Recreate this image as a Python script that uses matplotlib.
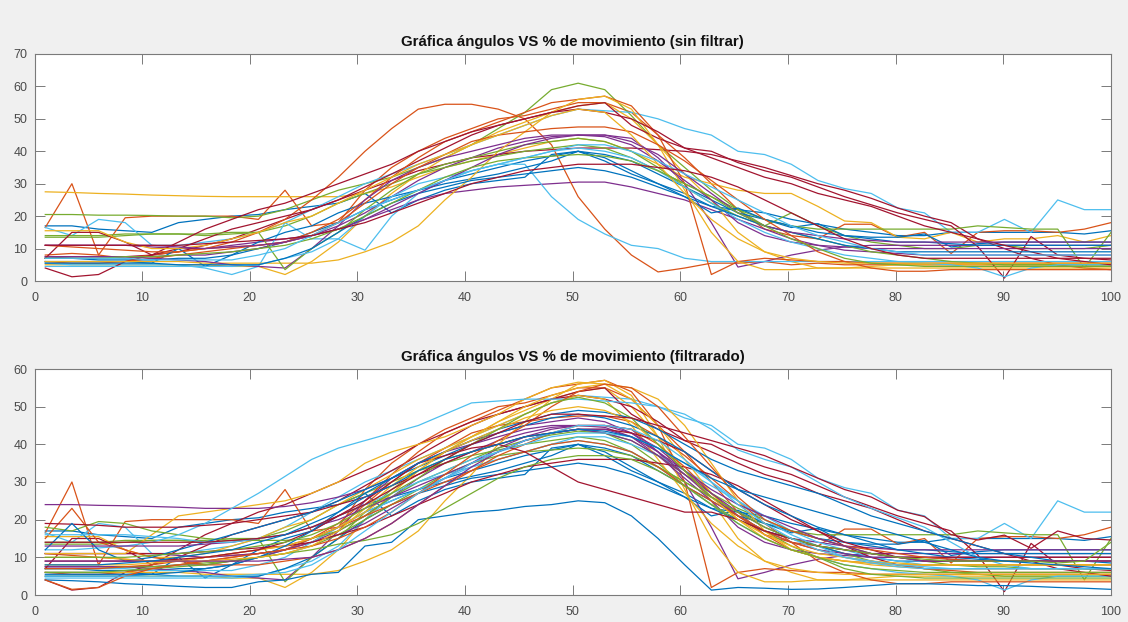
import numpy as np
import matplotlib
matplotlib.use("Agg")
import matplotlib.pyplot as plt

# percent of movement, 41 samples per trial
pct = np.linspace(1, 100, 41)

# MATLAB default line colour order
matlab_colors = ["#0072BD", "#D95319", "#EDB120", "#7E2F8E", "#77AC30", "#4DBEEE", "#A2142F"]

# ---- raw trials (sin filtrar) ----
t00 = [17, 17, 16, 15.5, 15, 18, 19, 20, 20.5, 22, 23, 24, 27, 21, 25, 28, 30, 31, 32, 39, 40, 37, 33, 30, 27,
       23, 22, 21, 19, 17.5, 16, 15, 14, 14, 15, 15, 15, 15, 15, 14.5, 15.5]
t01 = [16.5, 30, 8, 19.5, 20, 20, 20, 20, 19, 28, 17, 18, 28, 35, 40, 44, 47, 50, 51, 53, 55, 55, 52, 45, 38,
       30, 22, 16, 14, 13, 17.5, 17.5, 13.5, 15, 8.5, 15, 15.5, 15.5, 15, 16, 18]
t02 = [27.5, 27.3, 27, 26.8, 26.5, 26.3, 26.1, 26, 26, 26, 26, 26, 27, 29, 32, 35, 37, 39, 41, 43, 44, 43, 40, 36, 32,
       30, 28, 27, 27, 23, 18.5, 18, 13.5, 13, 15, 12, 13, 13, 14, 12, 14]
t03 = [11, 11, 11, 11, 10.5, 10, 10, 11, 12, 13, 14, 16, 19, 22, 25, 27, 28, 29, 29.5, 30, 30.5, 30.5, 29, 27, 25,
       22, 19, 16, 13, 11, 9.5, 9, 8.5, 8, 8, 8, 8, 8, 8, 8, 8]
t04 = [20.5, 20.5, 20.3, 20.3, 20.2, 20, 20, 19.5, 20, 22, 25, 28, 30, 32, 35, 38, 42, 47, 52, 59, 61, 59, 51, 42, 35,
       28, 22, 17, 21, 17, 14, 12, 11, 10, 10, 11, 11, 10, 10, 10, 11]
t05 = [16.5, 14, 19, 18, 11, 11, 12, 13, 15, 18, 22, 26, 30, 33, 36, 39, 42, 45, 48, 51, 53, 52.5, 52, 50, 47,
       45, 40, 39, 36, 31, 28.5, 27, 22.5, 21, 15, 15, 19, 15, 25, 22, 22]
t06 = [7, 7.5, 7.5, 7.5, 8, 9, 11, 13, 16, 19, 22, 25, 28, 31, 34, 36, 38, 39, 40, 40.5, 41, 41, 41, 40.5, 40,
       39, 37, 35, 32.5, 30, 28, 25.5, 22.5, 20, 18, 13, 10, 7, 5, 4, 3.5]
t07 = [7, 7, 6.5, 6.5, 6.5, 7, 7, 8, 10, 12, 15, 18, 22, 25, 28, 31, 33, 35, 37, 38.5, 40, 39, 37, 33, 29,
       25, 21, 19, 16.5, 17.7, 14, 13.5, 13.5, 14.5, 10.5, 11.5, 12, 12, 12, 12, 12]
t08 = [8, 8.5, 8, 7, 8, 9, 10, 12, 15, 19, 25, 32, 40, 47, 53, 54.5, 54.5, 53, 50, 42, 26, 16, 8, 2.8, 4,
       5.5, 5.5, 6, 5, 5.5, 5, 5, 5, 5, 5, 5, 5, 5, 5, 5, 5]
t09 = [5, 5, 5, 5, 5, 5, 5, 4.5, 4.5, 2, 6, 12, 20, 27, 33, 38, 42, 46, 49, 52, 54, 55, 50, 42, 33,
       25, 15, 9, 6, 4, 4, 4.5, 5, 5, 5, 5, 5, 5, 5, 5, 5]
t10 = [7.5, 7.5, 7.5, 7.5, 7.5, 8, 8, 9, 10, 12, 14, 17, 21, 26, 31, 35, 38, 41, 43, 44.5, 45, 45, 44, 38, 30,
       18, 4.3, 6, 8, 9.5, 10.5, 11, 11, 11, 11, 11, 11, 11, 11, 11, 11]
t11 = [14, 14, 14, 14.5, 14.5, 14.5, 14, 14.5, 15, 17, 20, 24, 27, 30, 33, 35, 37, 38.5, 40, 41, 42, 41, 38, 34, 30,
       26, 22, 19, 17, 16, 16, 16, 16, 16, 16, 17, 16.5, 16, 16, 4, 15]
t12 = [5.5, 5, 5, 5, 5, 5, 4, 2, 4.5, 18, 13, 13, 9.5, 20, 27, 31, 34, 36, 36, 26, 19, 14.5, 11, 10, 7,
       6, 6, 6, 6, 6, 6, 6, 6, 6, 6, 6, 6, 6, 6, 6, 6]
t13 = [4, 1.3, 2, 6, 8, 10, 13, 16, 18, 20, 22, 25, 29, 33, 37, 41, 45, 48, 50, 52, 54, 55, 48, 44, 41,
       40, 36.5, 34, 32, 29, 26, 23.5, 21, 19, 17, 10.6, 0.9, 13.7, 8, 7, 6.5]
t14 = [6, 6, 6, 6, 5.5, 10, 4.5, 8, 12, 15, 17, 21, 24, 26, 28, 30, 31.5, 33, 35, 37, 40, 38, 34, 30, 26,
       21, 22.5, 19, 17, 15, 14, 13, 12, 12, 11.5, 11, 11, 11, 11, 11, 11]
t15 = [6, 5.5, 5.5, 6, 7, 8, 9, 10, 11, 12, 15, 19, 25, 32, 38, 43, 46, 49, 52, 55, 56, 57, 54, 45, 30,
       2, 6, 7, 6.5, 6, 6, 5.5, 5.5, 5.5, 5.5, 5.5, 5.5, 5.5, 5.5, 5.5, 5.5]
t16 = [6, 6, 6, 6, 6, 6, 5.5, 5.5, 5.5, 5.5, 5.5, 6.5, 9, 12, 17, 25, 32, 40, 46, 52, 56, 57, 53, 42, 28,
       15, 6, 3.5, 3.5, 4, 4, 4, 4, 4, 4, 4, 4, 4, 4, 4, 4]
t17 = [7.5, 7.5, 7.5, 7.5, 7, 6.5, 6, 5, 4.5, 4, 10, 17, 25, 31, 35, 38, 40, 42, 44, 45, 45, 44.5, 42, 37, 31,
       25, 18, 14, 12, 11, 10.5, 10, 10, 10, 10, 10, 10, 10, 10, 10, 10]
t18 = [13.5, 13.5, 13.5, 14, 14.5, 14.5, 14.5, 15, 15, 3.5, 10, 15, 22, 28, 33, 36, 38, 40, 42, 43, 44, 43, 40, 35, 29,
       24, 20, 17, 15, 13, 11, 9, 8, 7, 6, 5.5, 5, 5, 5, 5, 5]
t19 = [4.5, 4.5, 4.5, 4.5, 4.5, 4.5, 4.5, 4.5, 5, 7, 9, 13, 20, 26, 30, 32, 34, 36, 38, 40, 41, 40, 38, 34, 29,
       24, 19, 15, 12, 10, 8, 7, 6, 5.5, 5, 4, 1.3, 4, 5, 5, 5]
t20 = [7, 15, 15, 12, 8, 12, 16, 19, 22, 24, 27, 30, 33, 36, 40, 43, 46, 48, 50, 52, 53, 52, 50, 46, 41,
       38, 35, 32, 30, 27, 25, 23, 20, 17, 15, 13, 11, 9, 7, 6, 5]
t21 = [5.5, 5.5, 5.5, 5.5, 5.5, 5, 5, 5, 5, 7, 10, 15, 20, 24, 27, 29, 31, 32, 33, 34, 35, 34, 32, 29, 26,
       23, 20, 17, 15, 13, 11, 10, 9, 9, 9, 9, 9, 9, 9, 9, 9]
t22 = [11, 10.5, 10, 9.5, 9, 9, 10, 10.5, 11, 12, 14, 18, 24, 30, 35, 39, 43, 45, 46, 47, 47.5, 47.5, 46, 42, 37,
       31, 25, 19, 14, 9, 6, 4, 3, 3, 3.5, 3.5, 3.5, 3.5, 3.5, 3.5, 3.5]
t23 = [15.5, 15.5, 15.5, 12, 10, 10, 11, 13, 15, 18, 20, 24, 28, 32, 36, 39, 42, 45, 48, 51, 53, 52, 45, 36, 27,
       19, 13, 9, 7, 6, 5.5, 5.5, 5.5, 5.5, 5.5, 5.5, 5.5, 5.5, 5.5, 5.5, 5.5]
t24 = [11, 11, 11, 11, 11, 10.5, 10, 10.5, 11, 12, 14, 16, 19, 23, 27, 31, 35, 39, 42, 44, 45, 45, 43, 39, 33,
       27, 21, 17, 15, 14, 13, 12.5, 12, 12, 12, 12, 12, 12, 12, 12, 12]
t25 = [7, 7, 7, 7.5, 7.5, 8, 8.5, 9, 10, 11, 13, 16, 20, 24, 28, 32, 35, 37, 38, 38.5, 39, 38.5, 37, 34, 30,
       26, 21, 17, 13, 10, 7, 5.5, 5, 4.5, 4.5, 4.5, 4.5, 4.5, 4.5, 4.5, 4.5]
t26 = [7, 7, 7, 7, 6.5, 6.5, 6.5, 6.5, 8, 10, 14, 18, 22, 25, 28, 31, 34, 36, 38, 40, 42, 42, 40, 37, 33,
       29, 25, 21, 17, 14, 12, 10, 9, 8, 8, 8, 8, 8, 8, 8, 8]
t27 = [11, 11, 11, 11, 11, 11, 11.5, 12, 12.5, 13, 14, 16, 18, 21, 24, 27, 30, 32, 34, 35, 36, 36, 36, 35, 34,
       32, 29, 25, 21, 17, 13, 10, 8, 7, 7, 7, 7, 7, 7, 7, 7]

raw = [t00, t01, t02, t03, t04, t05, t06, t07, t08, t09, t10, t11, t12, t13,
       t14, t15, t16, t17, t18, t19, t20, t21, t22, t23, t24, t25, t26, t27]

# ---- extra trials only in the filtered set ----
b00 = [4, 3.8, 3.5, 3, 2.7, 2.3, 2, 2, 3.5, 4, 5.5, 6, 13, 14, 20, 21, 22, 22.5, 23.5, 24, 25, 24.5, 21, 15, 8,
       1.3, 2, 1.8, 1.5, 1.6, 2, 2.5, 3, 3, 2.8, 2.5, 2.5, 2.3, 2, 1.8, 1.5]
b01 = [15, 23, 14, 12, 10, 9, 8, 8, 8, 9, 10, 12, 15, 19, 24, 29, 33, 37, 40, 43, 45, 45, 44, 40, 34,
       27, 21, 16, 12, 10, 9, 8.5, 8, 8, 8, 8, 8, 8, 8, 8, 8]
b02 = [11, 11, 11, 11, 16, 21, 22, 23, 24, 25, 27, 30, 35, 38, 40, 42, 45, 48, 52, 55, 56.5, 56, 52, 45, 36,
       27, 20, 15, 12, 10, 9, 8, 7.5, 7, 7, 7, 7, 7, 7, 7, 7]
b03 = [24, 24, 23.8, 23.7, 23.5, 23.3, 23, 23, 23, 23.5, 24.5, 26, 28, 31, 35, 38, 41, 43, 45, 46, 47, 46, 43, 38, 32,
       26, 21, 17, 14, 12, 11, 10, 10, 10, 10, 10, 10, 10, 10, 10, 10]
b04 = [18, 17, 19.5, 19, 17, 16, 15, 14.5, 14.5, 14.5, 15, 17, 21, 26, 30, 33, 36, 39, 41, 42.5, 43.5, 43, 41, 37, 32,
       27, 23, 20, 17, 15, 13, 11, 10, 9, 8, 7.5, 7.5, 7, 7, 7, 7]
b05 = [12, 12, 12.5, 13, 14, 16, 19, 23, 27, 31.5, 36, 39, 41, 43, 45, 48, 51, 51.5, 52, 52, 52, 51.5, 51, 50, 48,
       44, 38.5, 36, 34, 30, 26, 23, 20.5, 18, 14, 10, 8, 7, 7, 7, 7]
b06 = [19, 18.8, 18.5, 18, 18, 18, 18.5, 19, 20, 21, 22, 24, 26, 29, 32, 35, 38, 40, 42, 43, 44, 44, 43, 41, 38,
       33, 28, 24, 20, 17, 14, 12, 10, 9, 9, 9, 9, 9, 9, 9, 9]
b07 = [12, 19, 12, 9, 10, 12, 14, 16, 18, 20, 22, 25, 28, 31, 34, 37, 40, 43, 45, 47, 48, 47, 45, 42, 38,
       33, 28, 24, 21, 18, 16, 14, 12, 11, 10, 9.5, 9, 9, 9, 9, 9]
b08 = [7, 7, 7, 7.5, 8, 9, 10, 11, 12, 13, 15, 18, 21, 24, 27, 30, 33, 36, 38, 40, 41, 40, 38, 34, 29,
       25, 21, 17, 14, 12, 10, 9, 8, 7, 6.5, 6, 6, 6, 6, 6, 6]
b09 = [8, 8, 8, 8, 8.5, 9, 10, 11, 12, 13, 15, 18, 22, 27, 33, 38, 42, 46, 50, 53, 55, 56, 55, 52, 45,
       35, 25, 17, 12, 10, 9, 8.5, 8, 8, 8, 8, 8, 8, 8, 8, 8]
b10 = [13, 13, 13, 13, 13, 13, 13.5, 14, 15, 16, 18, 20, 23, 26, 29, 32, 35, 38, 41, 43, 44, 43, 41, 37, 32,
       27, 22, 18, 15, 13, 12, 11, 10, 10, 9.5, 9, 9, 9, 9, 9, 9]
b11 = [6, 6, 6, 6.5, 7, 7.5, 8, 9, 10, 11, 12, 13.5, 14.5, 16, 19, 23, 27, 31, 34, 36, 37, 37, 36, 33, 29,
       24, 19, 15, 12, 10, 8, 7, 6.5, 6, 6, 6, 6, 6, 6, 6, 6]
b12 = [16, 16, 16, 16, 15.5, 15, 14, 14, 15, 16, 18, 21, 24, 27, 30, 33, 36, 38, 40, 42, 43, 43, 42, 39, 35,
       30, 25, 20, 16, 13, 10, 8.5, 7.5, 7, 7, 7, 7, 7, 7, 7, 7]
b13 = [9, 9, 9, 9, 9, 9.5, 10, 11, 12, 14, 17, 21, 25, 30, 35, 37, 39, 40, 38, 34, 30, 28, 26, 24, 22,
       22, 20, 17, 15, 13, 12, 11, 10, 10, 10, 10, 10, 10, 10, 10, 10]
b14 = [5, 5, 5, 5, 5.5, 6, 7, 8, 10, 13, 17, 22, 27, 31, 35, 38, 41, 44, 46, 48, 49, 48.5, 47, 44, 40,
       36, 33, 31, 29, 27, 24, 21, 19, 17, 15, 13, 11, 10, 9, 9, 8.5]
b15 = [4, 1.5, 2, 5, 7, 8, 9, 10, 11, 12, 13, 15, 18, 22, 27, 32, 37, 41, 45, 50, 54, 56, 55, 50, 42,
       34, 26, 20, 17, 15, 13, 12, 11, 10, 9.5, 9, 9, 9, 9, 9, 9]
b16 = [10, 10, 10, 9.5, 9, 9, 9, 9.5, 10, 11, 13, 17, 23, 29, 34, 38, 41, 44, 47, 49, 50, 49, 46, 40, 33,
       26, 20, 16, 13, 11, 10, 9, 8.5, 8, 8, 8, 8, 8, 8, 8, 8]
b17 = [9, 9, 9, 9, 9, 9, 9, 9, 9, 9.5, 10, 12, 15, 19, 24, 29, 34, 38, 41, 43, 44, 44, 42, 38, 33,
       28, 24, 21, 18, 15, 13, 11, 10, 9, 9, 9, 9, 9, 9, 9, 9]
b18 = [10, 10, 10, 10, 10.5, 11, 11.5, 12, 13, 14, 16, 19, 23, 27, 31, 36, 40, 44, 48, 51, 52.5, 51, 47, 40, 33,
       26, 22, 18, 15, 13, 12, 11, 10, 9.5, 9, 9, 9, 9, 8.5, 9, 14]
b19 = [5, 5, 5, 5, 5, 5, 5, 5, 5.5, 6, 8, 12, 17, 22, 27, 31, 35, 38, 41, 43, 45, 45, 44, 41, 36,
       30, 24, 19, 15, 12, 10, 9, 8, 7.5, 7, 7, 7, 7, 7, 7, 7]
b20 = [14, 14, 14, 14, 14, 14, 14, 14.5, 15, 16, 18, 21, 24, 28, 32, 36, 40, 43, 46, 48, 48, 47.5, 47, 45, 43,
       41, 39, 37, 34, 31, 28, 26, 22.5, 20.8, 16, 14.6, 15.9, 12.4, 17, 15, 14.6]
b21 = [8, 8, 8, 8.5, 9, 10, 11, 12, 14, 16, 19, 22, 26, 29, 33, 36, 38, 40, 42, 43, 44, 43.5, 42, 39, 35,
       31, 28, 26, 24, 22, 20, 18, 16, 14, 12, 10, 9, 8.5, 8, 7.5, 7]

extra = [b00, b01, b02, b03, b04, b05, b06, b07, b08, b09, b10,
         b11, b12, b13, b14, b15, b16, b17, b18, b19, b20, b21]

# raw trials that also appear in the filtered plot
shared = [0, 1, 5, 7, 9, 10, 11, 13, 14, 15, 16, 17, 18, 19, 20, 21, 22, 23, 24, 25, 26, 27]

plt.rcParams["font.family"] = ["Liberation Sans", "DejaVu Sans"]

W, H = 1128, 622
fig = plt.figure(figsize=(W / 100, H / 100), dpi=100, facecolor="#f0f0f0")

ax_left, ax_right = 34.5, 1111
ax1 = fig.add_axes([ax_left / W, (H - 281) / H, (ax_right - ax_left) / W, (281 - 54) / H])
ax2 = fig.add_axes([ax_left / W, (H - 595) / H, (ax_right - ax_left) / W, (595 - 369) / H])


def style(ax, ymax, title):
    ax.set_facecolor("white")
    ax.set_xlim(0, 100)
    ax.set_ylim(0, ymax)
    ax.set_xticks(np.arange(0, 101, 10))
    ax.set_yticks(np.arange(0, ymax + 1, 10))
    ax.tick_params(direction="in", length=7.5, width=0.7, colors="#7a7a7a",
                   labelsize=9, top=True, right=True, pad=5)
    ax.tick_params(axis="x", pad=8)
    ax.tick_params(axis="both", labelcolor="#4a4a4a")
    for s in ax.spines.values():
        s.set_color("#7a7a7a")
        s.set_linewidth(0.8)
    ax.set_title(title, fontsize=10.8, fontweight="bold", color="#111111", pad=6)


for i, y in enumerate(raw):
    ax1.plot(pct, y, color=matlab_colors[i % 7], lw=0.9)

for i in shared:
    ax2.plot(pct, raw[i], color=matlab_colors[i % 7], lw=0.9)
for i, y in enumerate(extra):
    ax2.plot(pct, y, color=matlab_colors[i % 7], lw=0.9)

style(ax1, 70, "Gráfica ángulos VS % de movimiento (sin filtrar)")
style(ax2, 60, "Gráfica ángulos VS % de movimiento (filtrarado)")

fig.savefig("out.png", dpi=100, facecolor=fig.get_facecolor())
